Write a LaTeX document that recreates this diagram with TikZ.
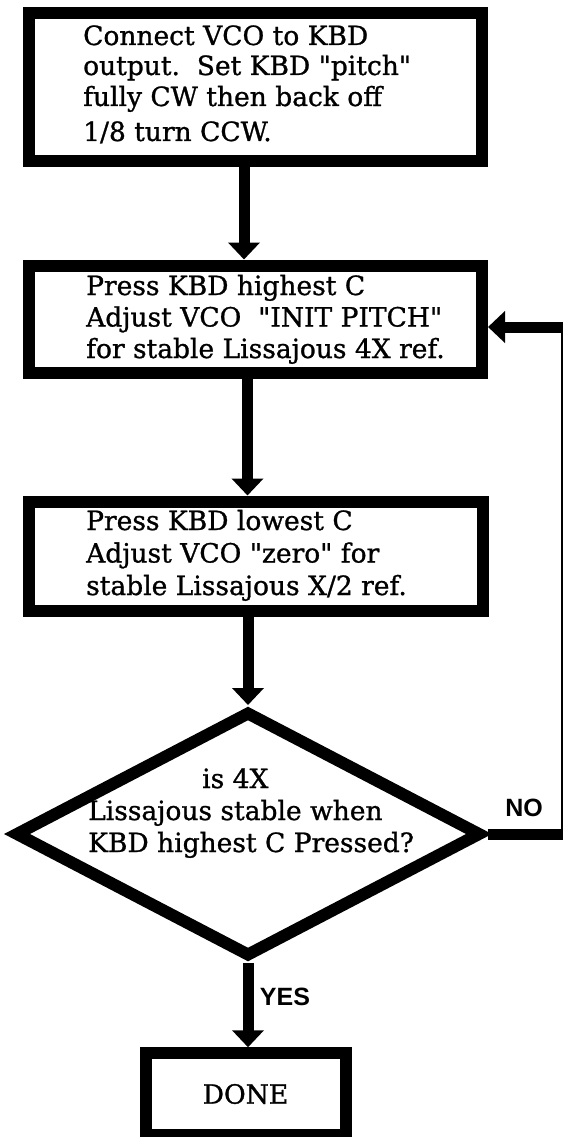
\documentclass[tikz,border=0pt]{standalone}
\usepackage{fontspec}
\setmainfont{DejaVu Serif}[FakeBold=1, Ligatures=TeXOff]
\newfontfamily\tagfont{Liberation Sans}
\usetikzlibrary{arrows.meta,shapes.geometric}

% stacked text rows: first row's baseline is the box baseline
\newcommand\rows[2]{\vtop{\baselineskip=#1\lineskiplimit=-100pt\relax
  \halign{##\hfil\cr#2\crcr}}}
% straight typewriter double quote
\newcommand\dq{\symbol{34}}

\tikzset{
  stepbox/.style={draw, rectangle, line width=12pt, inner sep=0pt},
  testbox/.style={draw, diamond, line width=12pt, inner sep=0pt},
  body/.style={anchor=base west, inner sep=0pt, font=\fontsize{26.5}{32}\selectfont},
  flow/.style={line width=11pt, -{Triangle[width=31pt,length=17pt]}},
  tag/.style={inner sep=0pt, font=\tagfont\bfseries\fontsize{25}{25}\selectfont},
}

\begin{document}
\begin{tikzpicture}[x=1pt, y=-1pt]
  \fill[white] (0,0) rectangle (562,1137);
  \useasboundingbox (0,0) rectangle (562,1137);

  % process boxes
  \node[stepbox, minimum width=453pt, minimum height=148pt] (b1) at (255.5,87) {};
  \node[stepbox, minimum width=453pt, minimum height=107pt] (b2) at (255.5,319) {};
  \node[stepbox, minimum width=454pt, minimum height=109pt] (b3) at (256,556) {};
  \node[testbox, minimum width=467pt, minimum height=246pt] (q) at (248,834) {};
  \node[stepbox, minimum width=200pt, minimum height=81.5pt,
        font=\fontsize{26.5}{32}\selectfont] (d) at (245.5,1094) {DONE};

  % box texts
  \node[body] (t1) at (83,45) {\rows{30pt}{Connect VCO to KBD\cr
      output.\ \ Set KBD \dq pitch\dq\cr\noalign{\vskip1pt}
      fully CW then back off\cr\noalign{\vskip5pt}
      1/8 turn CCW.}};
  \node[body] (t2) at (86,295) {\rows{31.5pt}{Press KBD highest C\cr
      Adjust VCO\ \ \dq INIT PITCH\dq\cr
      for stable Lissajous 4X ref.}};
  \node[body] (t3) at (86,530) {\rows{32.5pt}{Press KBD lowest C\cr
      Adjust VCO \dq zero\dq\ for\cr
      stable Lissajous X/2 ref.}};
  \node[body] (tq) at (88,788) {\rows{32pt}{\hskip114pt is 4X\cr
      Lissajous stable when\cr
      KBD highest C Pressed?}};

  % branch labels
  \node[tag] (tno) at (524,808) {NO};
  \node[tag] (tyes) at (285,996.5) {YES};

  % connectors
  \coordinate (s1) at ([xshift=-11.5pt]b1.south);
  \coordinate (s2) at ([xshift=-8pt]b2.south);
  \coordinate (r2) at ([yshift=-8pt]b2.east);
  \coordinate (loop) at (566.5,600);

  \draw[flow] (s1) -- (s1 |- b2.north);
  \draw[flow] (s2) -- (s2 |- b3.north);
  \draw[flow] (b3.south -| q.north) -- (q.north);
  \draw[flow] (q.south) -- (q.south |- d.north);
  \draw[flow] (q.east) -- (q.east -| loop) -- (loop |- r2) -- (r2);
\end{tikzpicture}
\end{document}
